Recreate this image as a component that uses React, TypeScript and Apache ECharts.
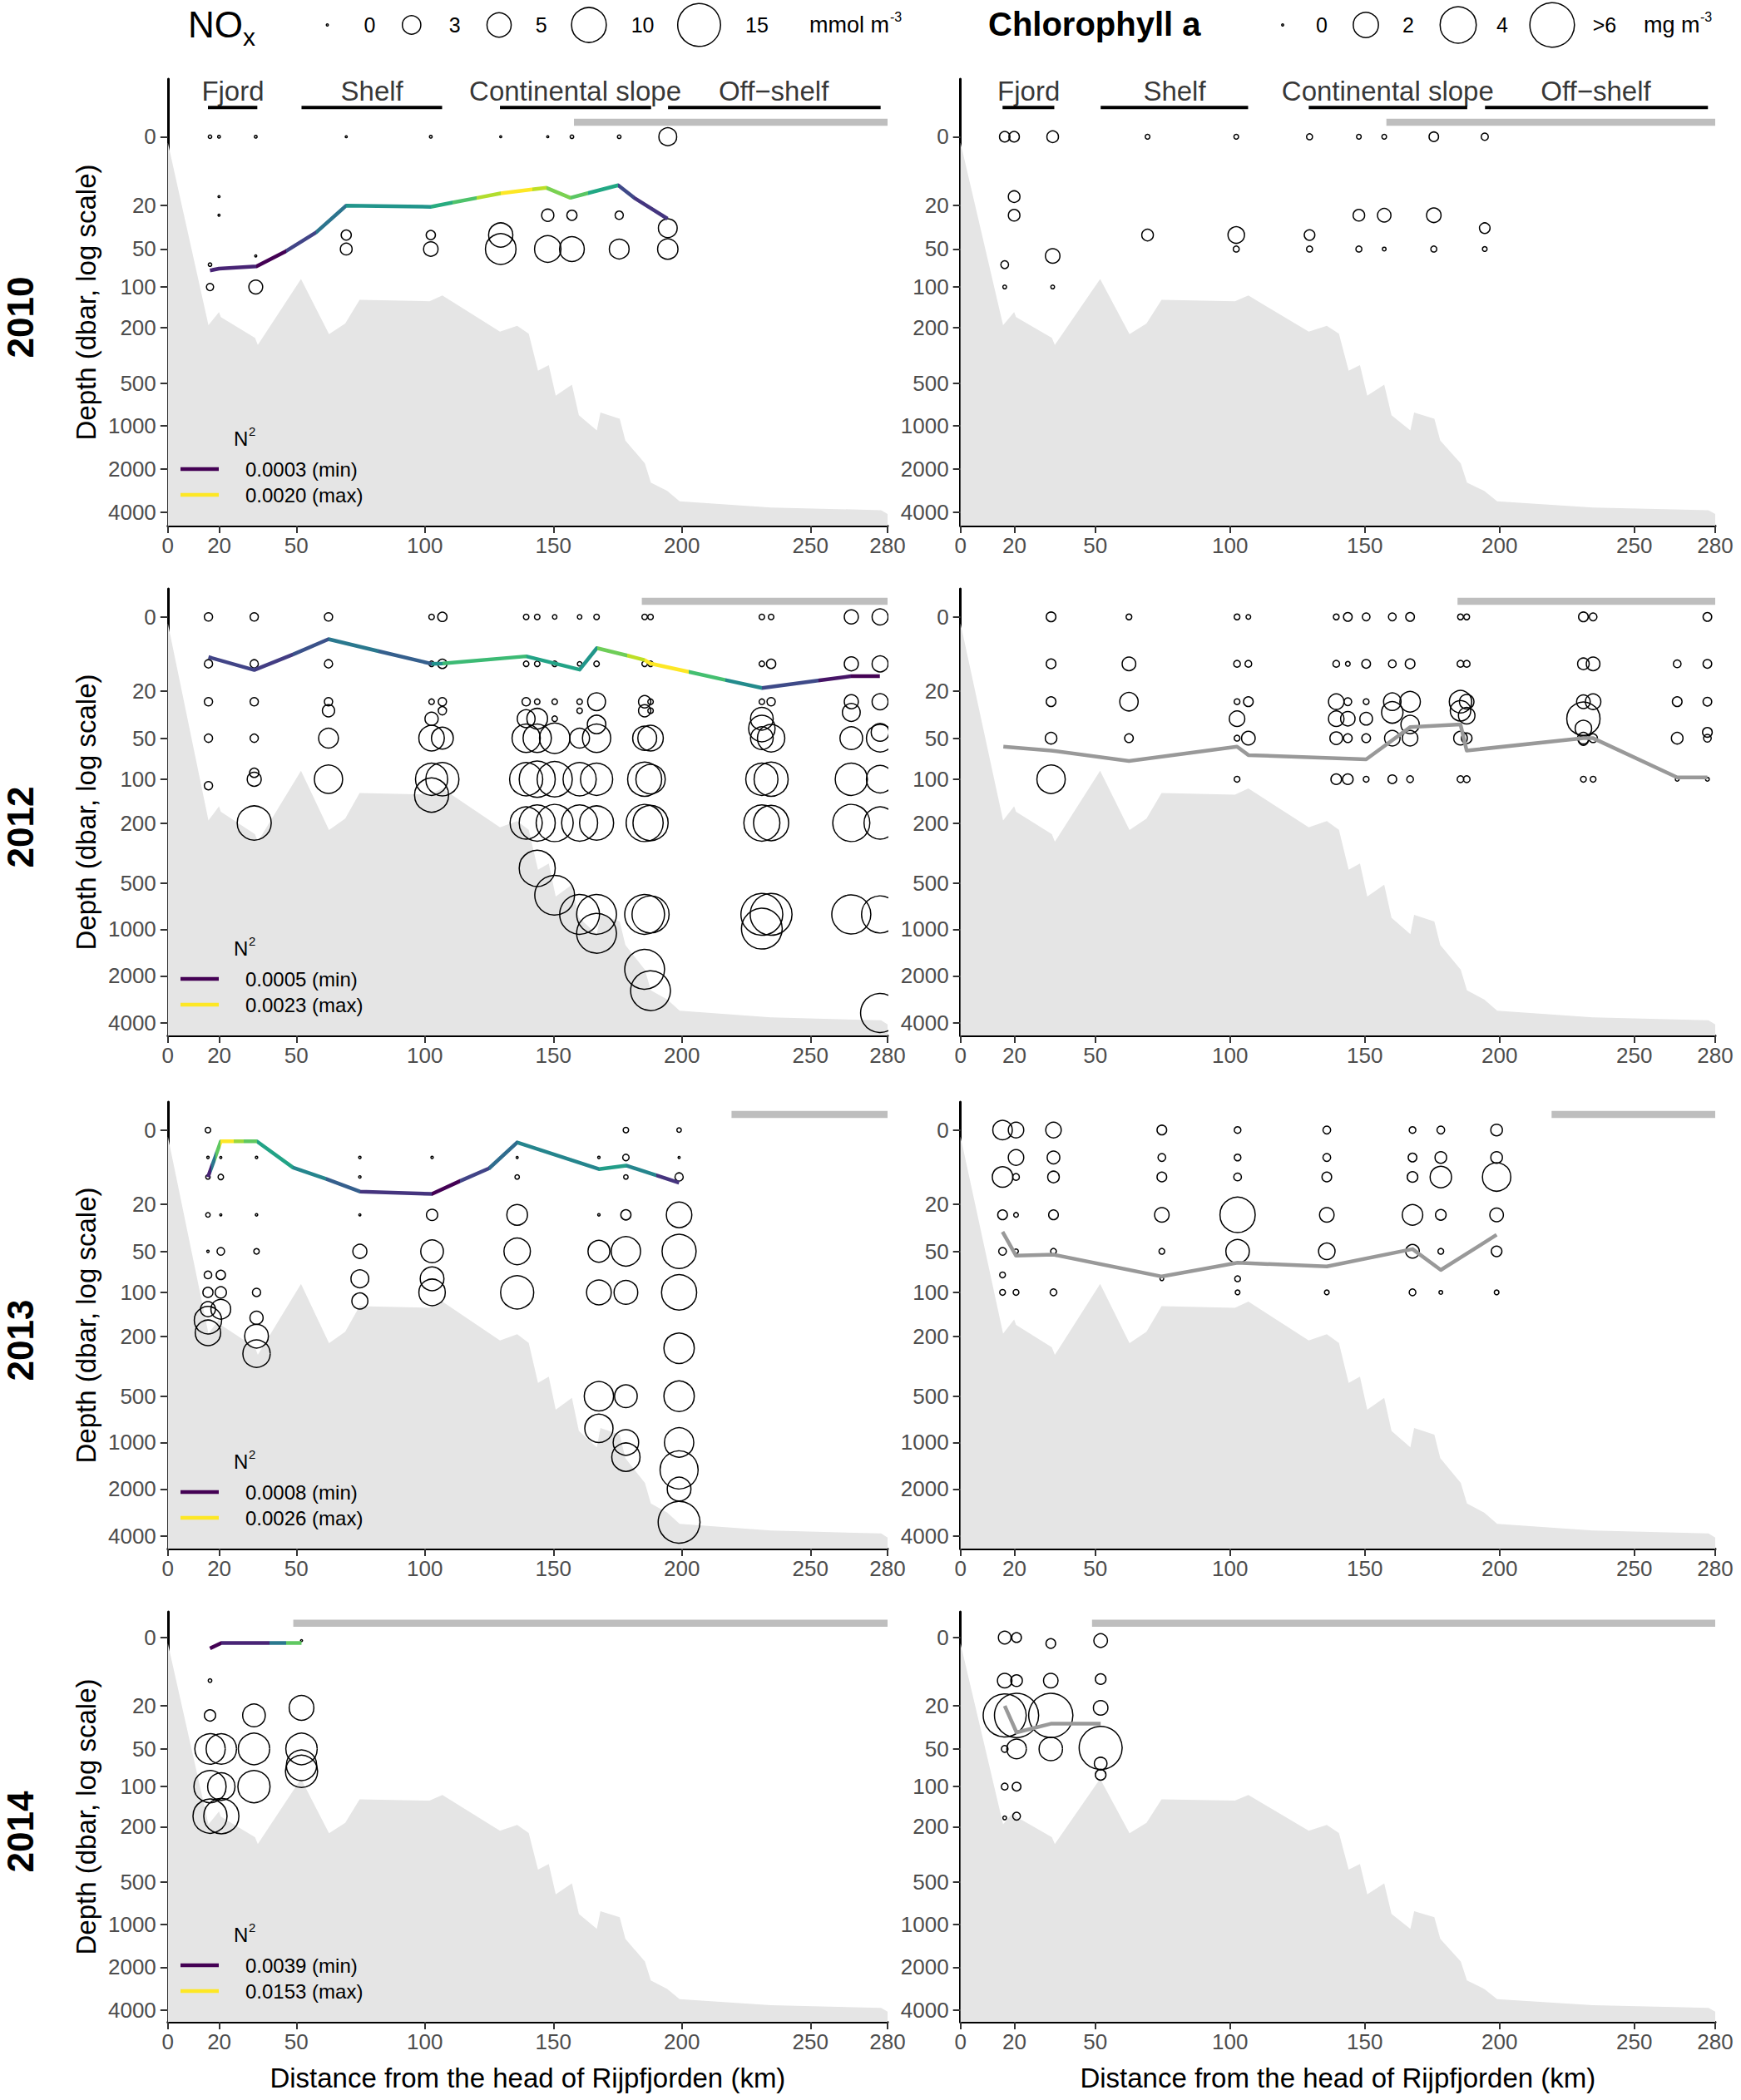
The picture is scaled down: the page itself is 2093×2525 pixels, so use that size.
import React, { useEffect, useRef } from 'react';
import * as echarts from 'echarts';

const W = 2093;
const H = 2525;
const FONT = '"Liberation Sans", Arial, Helvetica, sans-serif';

// ---------- axes / layout data ----------
const years = ['2010', '2012', '2013', '2014'];
const xTicks = [0, 20, 50, 100, 150, 200, 250, 280];
const depthTicks = [0, 20, 50, 100, 200, 500, 1000, 2000, 4000];

// seabed profile [km, depth dbar]
const bathymetry: number[][] = [
  [0, 1], [15.8, 192], [19.9, 154], [20.6, 168], [33.9, 238], [35, 267], [51.8, 87],
  [62.7, 223], [69, 187], [74.6, 125], [101.8, 128], [106.8, 116], [129.2, 214],
  [135.9, 194], [140.4, 222], [144, 409], [148.2, 372], [150.9, 613], [157.2, 512],
  [159.9, 842], [166.9, 1075], [168.3, 806], [175.8, 890], [178, 1264], [185.6, 1826],
  [187.9, 2480], [194.3, 2840], [199.1, 3350], [234.6, 3700], [277.5, 3860], [280, 4100],
];

const sectionNames = ['Fjord', 'Shelf', 'Continental slope', 'Off\u2212shelf'];
const sectionStart = [15.6, 52, 129.2, 194.6];
const sectionEnd = [34.8, 106.7, 188, 277.3];
const sectionLabelKm = [25.3, 79.4, 158.5, 235.7];

const iceStartKm = [158, 184.4, 219.3, 48.8];

// ---------- NOx bubbles [km, depth, mmol m-3] ----------
const nox2010 = [
  [16.4, 0, 0.17], [16.4, 67, 0.17], [16.4, 100, 0.55],
  [19.9, 0, 0.12], [19.9, 16, 0.01], [19.9, 25, 0.03],
  [34.2, 0, 0.12], [34.2, 57, 0.05], [34.2, 100, 1.75],
  [69.4, 0, 0.01], [69.4, 38, 1.0], [69.4, 50, 1.3],
  [102.3, 0, 0.12], [102.3, 38, 0.85], [102.3, 50, 1.9],
  [129.5, 0, 0.01], [129.5, 38, 5.0], [129.5, 50, 7.8],
  [147.8, 0, 0.08], [147.8, 25, 1.4], [147.8, 50, 5.9],
  [157.2, 0, 0.18], [157.2, 25, 1.0], [157.2, 50, 5.2],
  [175.6, 0, 0.18], [175.6, 25, 0.7], [175.6, 50, 3.4],
  [194.5, 0, 2.8], [194.5, 33, 3.1], [194.5, 50, 3.6],
];
const nox2012 = [
  [15.8, 0, 0.7], [15.8, 10, 0.7], [15.8, 25, 0.7], [15.8, 50, 0.7], [15.8, 111, 0.7],
  [33.6, 0, 0.7], [33.6, 10, 0.7], [33.6, 25, 0.7], [33.6, 50, 0.7], [33.6, 90, 0.85], [33.6, 100, 1.8], [33.6, 200, 9.6],
  [62.5, 0, 0.7], [62.5, 10, 0.7], [62.5, 25, 0.7], [62.5, 30, 1.4], [62.5, 50, 3.4], [62.5, 100, 6.7],
  [102.6, 0, 0.35], [102.6, 10, 0.35], [102.6, 25, 0.35], [102.6, 35, 1.6], [102.6, 50, 5.5], [102.6, 100, 8.6], [102.6, 129, 9.6],
  [106.8, 0, 0.85], [106.8, 10, 0.85], [106.8, 25, 0.7], [106.8, 30, 0.7], [106.8, 50, 4.1], [106.8, 100, 9.1],
  [139.4, 0, 0.35], [139.4, 10, 0.35], [139.4, 25, 0.7], [139.4, 35, 2.8], [139.4, 50, 6.7], [139.4, 100, 9.1], [139.4, 200, 8.6],
  [143.7, 0, 0.35], [143.7, 10, 0.35], [143.7, 25, 0.35], [143.7, 35, 3.7], [143.7, 50, 6.7], [143.7, 100, 10.7], [143.7, 200, 10.7], [143.7, 400, 10.7],
  [150.5, 0, 0.25], [150.5, 10, 0.35], [150.5, 25, 0.35], [150.5, 35, 0.35], [150.5, 50, 7.7], [150.5, 100, 10.2], [150.5, 200, 11.3], [150.5, 600, 13],
  [160.2, 0, 0.25], [160.2, 10, 0.25], [160.2, 25, 0.35], [160.2, 30, 0.35], [160.2, 50, 3.4], [160.2, 100, 9.1], [160.2, 200, 10.7], [160.2, 800, 13],
  [166.8, 0, 0.35], [166.8, 10, 0.35], [166.8, 25, 2.8], [166.8, 39, 3.0], [166.8, 50, 6.7], [166.8, 100, 8.6], [166.8, 200, 9.6], [166.8, 800, 13], [166.8, 1061, 13],
  [185.5, 0, 0.35], [185.5, 10, 0.35], [185.5, 25, 1.4], [185.5, 30, 1.4], [185.5, 50, 4.9], [185.5, 100, 9.6], [185.5, 200, 11.3], [185.5, 800, 13], [185.5, 1814, 13],
  [187.8, 0, 0.35], [187.8, 10, 0.35], [187.8, 25, 0.35], [187.8, 30, 0.35], [187.8, 50, 5.5], [187.8, 100, 7.2], [187.8, 200, 10.2], [187.8, 800, 11.3], [187.8, 2490, 13],
  [231.1, 0, 0.35], [231.1, 10, 0.35], [231.1, 25, 0.35], [231.1, 35, 4.4], [231.1, 42, 5.9], [231.1, 50, 4.4], [231.1, 100, 8.6], [231.1, 200, 10.7], [231.1, 800, 14.3], [231.1, 990, 13.6],
  [234.7, 0, 0.35], [234.7, 10, 0.85], [234.7, 25, 0.7], [234.7, 50, 6.3], [234.7, 100, 9.6], [234.7, 200, 10.2], [234.7, 800, 14.3],
  [265.9, 0, 1.8], [265.9, 10, 1.8], [265.9, 25, 1.8], [265.9, 31, 2.8], [265.9, 50, 4.4], [265.9, 100, 8.6], [265.9, 200, 11.3], [265.9, 800, 12.5],
  [277.1, 0, 2.3], [277.1, 10, 2.3], [277.1, 25, 2.3], [277.1, 45, 2.8], [277.1, 50, 6.3], [277.1, 100, 6.3], [277.1, 200, 8.6], [277.1, 800, 11.3], [277.1, 3466, 12.5],
];
const nox2013 = [
  [15.6, 0, 0.35], [15.6, 5, 0.1], [15.6, 10, 0.25], [15.6, 25, 0.25], [15.6, 50, 0.1], [15.6, 75, 0.6], [15.6, 100, 1.0], [15.6, 131, 2.0], [15.6, 156, 6.3], [15.6, 190, 5.5],
  [20.6, 0, 0.06], [20.6, 5, 0.06], [20.6, 10, 0.35], [20.6, 25, 0.06], [20.6, 50, 0.6], [20.6, 75, 0.85], [20.6, 100, 1.2], [20.6, 131, 3.4],
  [34.5, 0, 0.06], [34.5, 5, 0.1], [34.5, 10, 0.06], [34.5, 25, 0.1], [34.5, 50, 0.35], [34.5, 100, 0.7], [34.5, 150, 1.6], [34.5, 200, 4.8], [34.5, 262, 6.3],
  [74.7, 0, 0.1], [74.7, 5, 0.1], [74.7, 10, 0.1], [74.7, 25, 0.04], [74.7, 50, 1.8], [74.7, 80, 2.8], [74.7, 115, 2.3],
  [102.8, 0, 0.1], [102.8, 5, 0.1], [102.8, 10, 0.03], [102.8, 25, 1.2], [102.8, 50, 4.4], [102.8, 80, 4.8], [102.8, 100, 5.9],
  [135.9, 0, 0.06], [135.9, 5, 0.06], [135.9, 10, 0.25], [135.9, 25, 3.7], [135.9, 50, 5.9], [135.9, 100, 9.1],
  [167.7, 0, 0.1], [167.7, 5, 0.1], [167.7, 10, 0.03], [167.7, 25, 0.1], [167.7, 50, 4.1], [167.7, 100, 5.2], [167.7, 500, 7.2], [167.7, 810, 6.7],
  [178.2, 0, 0.35], [178.2, 5, 0.45], [178.2, 10, 0.25], [178.2, 25, 1.0], [178.2, 50, 7.2], [178.2, 100, 4.8], [178.2, 500, 4.4], [178.2, 1000, 5.5], [178.2, 1244, 6.7],
  [198.9, 0, 0.25], [198.9, 5, 0.06], [198.9, 10, 0.7], [198.9, 25, 5.5], [198.9, 50, 9.6], [198.9, 100, 10.2], [198.9, 241, 7.7], [198.9, 500, 7.7], [198.9, 1000, 7.2], [198.9, 1504, 11.9], [198.9, 2000, 4.8], [198.9, 3271, 14.3],
];
const nox2014 = [
  [16.4, 0, 0.25], [16.4, 10, 0.18], [16.4, 25, 1.2], [16.4, 50, 7.7], [16.4, 100, 8.6], [16.4, 167, 9.6],
  [20.8, 0, 0.02], [20.8, 10, 0.02], [20.8, 25, 0.18], [20.8, 50, 7.7], [20.8, 100, 6.3], [20.8, 167, 10.2],
  [33.5, 0, 0.01], [33.5, 10, 0.02], [33.5, 25, 4.4], [33.5, 50, 8.2], [33.5, 100, 8.6],
  [52, 0.5, 0.02], [52, 10, 0.02], [52, 21, 5.2], [52, 50, 8.2], [52, 68, 7.7], [52, 76, 8.6],
];

// ---------- Chlorophyll a bubbles [km, depth, mg m-3] ----------
const chl2010 = [
  [16.4, 0, 0.39], [16.4, 67, 0.23], [16.4, 100, 0.07],
  [19.9, 0, 0.39], [19.9, 16, 0.47], [19.9, 25, 0.47],
  [34.2, 0, 0.47], [34.2, 57, 0.71], [34.2, 100, 0.07],
  [69.4, 0, 0.1], [69.4, 38, 0.47],
  [102.3, 0, 0.1], [102.3, 38, 0.9], [102.3, 50, 0.15],
  [129.5, 0, 0.15], [129.5, 38, 0.4], [129.5, 50, 0.15],
  [147.8, 0, 0.1], [147.8, 25, 0.47], [147.8, 50, 0.15],
  [157.2, 0, 0.1], [157.2, 25, 0.62], [157.2, 50, 0.07],
  [175.6, 0, 0.33], [175.6, 25, 0.71], [175.6, 50, 0.15],
  [194.5, 0, 0.2], [194.5, 33, 0.4], [194.5, 50, 0.1],
];
const chl2012 = [
  [33.6, 0, 0.34], [33.6, 10, 0.34], [33.6, 25, 0.34], [33.6, 50, 0.47], [33.6, 100, 2.5],
  [62.5, 0, 0.14], [62.5, 10, 0.63], [62.5, 25, 1.1], [62.5, 50, 0.28],
  [102.6, 0, 0.14], [102.6, 10, 0.18], [102.6, 25, 0.14], [102.6, 35, 0.8], [102.6, 50, 0.14], [102.6, 100, 0.14],
  [106.8, 0, 0.1], [106.8, 10, 0.18], [106.8, 25, 0.34], [106.8, 50, 0.63],
  [139.4, 0, 0.14], [139.4, 10, 0.18], [139.4, 25, 0.8], [139.4, 35, 0.8], [139.4, 50, 0.55], [139.4, 100, 0.4],
  [143.7, 0, 0.28], [143.7, 10, 0.1], [143.7, 25, 0.23], [143.7, 35, 0.7], [143.7, 50, 0.28], [143.7, 100, 0.4],
  [150.5, 0, 0.23], [150.5, 10, 0.28], [150.5, 25, 0.14], [150.5, 35, 0.55], [150.5, 50, 0.28], [150.5, 100, 0.14],
  [160.2, 0, 0.23], [160.2, 10, 0.23], [160.2, 25, 1.0], [160.2, 31, 1.47], [160.2, 50, 0.8], [160.2, 100, 0.28],
  [166.8, 0, 0.28], [166.8, 10, 0.34], [166.8, 25, 1.35], [166.8, 39, 1.1], [166.8, 50, 0.8], [166.8, 100, 0.18],
  [185.5, 0, 0.14], [185.5, 10, 0.18], [185.5, 25, 1.6], [185.5, 30, 1.35], [185.5, 50, 0.63], [185.5, 100, 0.18],
  [187.8, 0, 0.14], [187.8, 10, 0.18], [187.8, 25, 0.71], [187.8, 33, 0.9], [187.8, 50, 0.4], [187.8, 100, 0.18],
  [231.1, 0, 0.34], [231.1, 10, 0.47], [231.1, 25, 0.63], [231.1, 35, 3.4], [231.1, 42, 0.9], [231.1, 50, 0.47], [231.1, 52, 0.34], [231.1, 100, 0.14],
  [234.7, 0, 0.23], [234.7, 10, 0.63], [234.7, 25, 0.8], [234.7, 50, 0.28], [234.7, 100, 0.14],
  [265.9, 10, 0.23], [265.9, 25, 0.34], [265.9, 50, 0.47], [265.9, 100, 0.07],
  [277.1, 0, 0.28], [277.1, 10, 0.28], [277.1, 25, 0.28], [277.1, 45, 0.34], [277.1, 50, 0.23], [277.1, 100, 0.07],
];
const chl2013 = [
  [15.6, 0, 1.23], [15.6, 10, 1.35], [15.6, 25, 0.34], [15.6, 50, 0.23], [15.6, 75, 0.14], [15.6, 100, 0.14],
  [20.6, 0, 0.8], [20.6, 5, 0.8], [20.6, 10, 0.18], [20.6, 25, 0.1], [20.6, 50, 0.1], [20.6, 100, 0.14],
  [34.5, 0, 0.8], [34.5, 5, 0.55], [34.5, 10, 0.47], [34.5, 25, 0.34], [34.5, 50, 0.14], [34.5, 100, 0.18],
  [74.7, 0, 0.34], [74.7, 5, 0.23], [74.7, 10, 0.34], [74.7, 25, 0.71], [74.7, 50, 0.14], [74.7, 80, 0.07],
  [102.8, 0, 0.18], [102.8, 5, 0.18], [102.8, 10, 0.23], [102.8, 25, 3.8], [102.8, 50, 1.74], [102.8, 80, 0.14], [102.8, 100, 0.1],
  [135.9, 0, 0.23], [135.9, 5, 0.23], [135.9, 10, 0.34], [135.9, 25, 0.71], [135.9, 50, 0.9], [135.9, 100, 0.1],
  [167.7, 0, 0.18], [167.7, 5, 0.28], [167.7, 10, 0.4], [167.7, 25, 1.35], [167.7, 50, 0.63], [167.7, 100, 0.18],
  [178.2, 0, 0.23], [178.2, 5, 0.47], [178.2, 10, 1.47], [178.2, 25, 0.4], [178.2, 50, 0.14], [178.2, 100, 0.07],
  [198.9, 0, 0.47], [198.9, 5, 0.47], [198.9, 10, 2.5], [198.9, 25, 0.63], [198.9, 50, 0.4], [198.9, 100, 0.1],
];
const chl2014 = [
  [16.4, 0, 0.55], [16.4, 10, 0.71], [16.4, 25, 5.6], [16.4, 50, 0.18], [16.4, 100, 0.18], [16.4, 172, 0.07],
  [20.8, 0, 0.34], [20.8, 10, 0.47], [20.8, 25, 5.9], [20.8, 50, 1.23], [20.8, 100, 0.28], [20.8, 167, 0.23],
  [33.5, 1, 0.34], [33.5, 10, 0.71], [33.5, 25, 5.9], [33.5, 50, 1.74],
  [52, 0.5, 0.63], [52, 9.5, 0.4], [52, 21, 0.71], [52, 49, 5.6], [52, 66, 0.55], [52, 81, 0.4],
];

// ---------- N2 lines: points [km, depth] and per-segment N2 ----------
const n2Line2010 = [[16.4, 74.5], [19.9, 72], [34.5, 69], [46, 52], [57.7, 36], [69.4, 20], [102.2, 20.6], [110.8, 18.6], [120, 16.6], [129.4, 14.7], [141.7, 13.2], [147.3, 12.6], [156.6, 16.5], [163.4, 14.6], [175.2, 11.7], [181.4, 16.5], [194.4, 27]];
const n2Seg2010 = [0.00047, 0.00047, 0.0003, 0.00064, 0.00095, 0.00118, 0.00135, 0.00152, 0.0018, 0.002, 0.00183, 0.00166, 0.00156, 0.00132, 0.00067, 0.00056];
const n2Line2012 = [[15.8, 8.1], [33.6, 11.9], [48.7, 7.4], [62.5, 3.9], [82, 6.6], [102.6, 10], [106.9, 9.9], [139.4, 7.9], [160.2, 11.8], [166.9, 5.85], [178.8, 7.7], [185.5, 8.9], [187.7, 9.9], [202.6, 12.5], [216.9, 15.4], [231.2, 18.6], [253, 15.6], [265.8, 14], [277, 14]];
const n2Seg2012 = [0.00086, 0.00082, 0.00095, 0.00122, 0.00104, 0.0014, 0.00172, 0.00154, 0.00144, 0.0019, 0.00212, 0.0023, 0.0023, 0.00176, 0.00136, 0.0009, 0.0006, 0.0005];
const n2Line2013 = [[15.6, 10], [17, 7.3], [18.5, 4.8], [20.6, 1.8], [25.5, 1.8], [29.5, 1.8], [34.6, 1.8], [48.7, 7.4], [61.7, 10.6], [74.7, 14.8], [102.8, 15.7], [113.8, 11.2], [125, 7.6], [135.9, 2], [167.7, 7.8], [178.3, 6.9], [190, 9.5], [198.9, 11.8]];
const n2Seg2013 = [0.00098, 0.00152, 0.00215, 0.0026, 0.00233, 0.00215, 0.00184, 0.00161, 0.00134, 0.00107, 0.0008, 0.00116, 0.00143, 0.00161, 0.00179, 0.00161, 0.00107];
const n2Line2014 = [[16.4, 1.9], [20.8, 0.9], [39.4, 0.9], [45.9, 0.9], [52, 0.9]];
const n2Seg2014 = [0.0039, 0.00504, 0.00846, 0.01245];
const n2MinLabel = ['0.0003', '0.0005', '0.0008', '0.0039'];
const n2MaxLabel = ['0.0020', '0.0023', '0.0026', '0.0153'];

// ---------- depth of chlorophyll maximum (grey line) [km, depth] ----------
const chlMax2010: number[][] = [];
const chlMax2012 = [[15.9, 58], [33.6, 62], [62.5, 74], [102.6, 58], [106.8, 67], [150.5, 72], [166.8, 41], [185.5, 39], [187.8, 62], [231.1, 50], [234.7, 50], [265.9, 97], [277.1, 97]];
const chlMax2013 = [[15.6, 35], [20.6, 54], [34.5, 53], [74.7, 77], [102.8, 61], [135.9, 65], [167.7, 48], [178.2, 69], [198.9, 37]];
const chlMax2014 = [[16.4, 20], [20.8, 36], [33.5, 30], [52, 30]];

// ---------- size legends ----------
const noxLegendValues = [0, 3, 5, 10, 15];
const noxLegendLabels = ['0', '3', '5', '10', '15'];
const chlLegendValues = [0, 2, 4, 6];
const chlLegendLabels = ['0', '2', '4', '>6'];

const noxByYear = [nox2010, nox2012, nox2013, nox2014];
const chlByYear = [chl2010, chl2012, chl2013, chl2014];
const n2LineByYear = [n2Line2010, n2Line2012, n2Line2013, n2Line2014];
const n2SegByYear = [n2Seg2010, n2Seg2012, n2Seg2013, n2Seg2014];
const chlMaxByYear = [chlMax2010, chlMax2012, chlMax2013, chlMax2014];

// ---------- layout (style) ----------
const colLeft = [201.8, 1154.7];
const colWidth = [865.2, 907.3];
const rowTop = [95, 708, 1325, 1938];
const rowHeight = [537, 537, 537, 493];
const rowYMin = [0.6, 0.82, 0.82, 0.82];
const rowYMax = [3.695, 3.685, 3.685, 3.685];

const NOX_K = 13.7;
const CHL_K = 22.5;

const depthT = (d: number) => Math.log10(d + 10);

const VIRIDIS = ['#440154', '#482475', '#414487', '#355f8d', '#2a788e', '#21918c', '#22a884', '#44bf70', '#7ad151', '#bddf26', '#fde725'];
function hex2rgb(h: string) {
  return [parseInt(h.slice(1, 3), 16), parseInt(h.slice(3, 5), 16), parseInt(h.slice(5, 7), 16)];
}
function viridis(f: number) {
  const t = Math.max(0, Math.min(1, f)) * 10;
  const i = Math.min(9, Math.floor(t));
  const r = t - i;
  const a = hex2rgb(VIRIDIS[i]);
  const b = hex2rgb(VIRIDIS[i + 1]);
  const c = a.map((v, k) => Math.round(v + (b[k] - v) * r));
  return `rgb(${c[0]},${c[1]},${c[2]})`;
}

function n2Gradient(pts: number[][], seg: number[], lo: number, hi: number) {
  const x0 = pts[0][0];
  const x1 = pts[pts.length - 1][0];
  const stops: { offset: number; color: string }[] = [];
  for (let i = 0; i < seg.length; i++) {
    const col = viridis((seg[i] - lo) / (hi - lo));
    stops.push({ offset: (pts[i][0] - x0) / (x1 - x0), color: col });
    stops.push({ offset: (pts[i + 1][0] - x0) / (x1 - x0), color: col });
  }
  return new echarts.graphic.LinearGradient(0, 0, 1, 0, stops);
}

function bubbleRadius(v: number, k: number) {
  return Math.max((k * Math.sqrt(v)) / 2 - 0.75, 1.2);
}

function buildOption() {
  const grid: any[] = [];
  const xAxis: any[] = [];
  const yAxis: any[] = [];
  const series: any[] = [];
  const graphic: any[] = [];

  const tickLabel = { fontSize: 26, color: '#4d4d4d', fontFamily: FONT };
  const yCustom = depthTicks.map(depthT);

  for (let r = 0; r < 4; r++) {
    for (let c = 0; c < 2; c++) {
      const g = r * 2 + c;
      grid.push({ left: colLeft[c], top: rowTop[r], width: colWidth[c], height: rowHeight[r], containLabel: false });
      xAxis.push({
        type: 'value', gridIndex: g, min: 0, max: 280,
        axisLine: { show: true, onZero: false, lineStyle: { color: '#000', width: 3 } },
        axisTick: { show: true, length: 9, customValues: xTicks, lineStyle: { color: '#333', width: 2 } },
        axisLabel: { ...tickLabel, margin: 11, customValues: xTicks, formatter: (v: number) => String(Math.round(v)) },
        splitLine: { show: false },
      });
      yAxis.push({
        type: 'value', gridIndex: g, inverse: true, min: rowYMin[r], max: rowYMax[r],
        axisLine: { show: true, onZero: false, lineStyle: { color: '#000', width: 3 } },
        axisTick: { show: true, length: 9, customValues: yCustom, lineStyle: { color: '#333', width: 2 } },
        axisLabel: { ...tickLabel, margin: 14, customValues: yCustom, formatter: (v: number) => String(Math.round(Math.pow(10, v) - 10)) },
        splitLine: { show: false },
      });

      // seabed
      series.push({
        type: 'line', xAxisIndex: g, yAxisIndex: g, symbol: 'none', silent: true, z: 1,
        data: bathymetry.map((p) => [p[0], depthT(p[1])]),
        lineStyle: { width: 0, color: '#e5e5e5' },
        areaStyle: { color: '#e5e5e5', opacity: 1, origin: 'end' },
      });

      // ice bar
      series.push({
        type: 'line', xAxisIndex: g, yAxisIndex: g, symbol: 'none', silent: true, z: 2,
        data: [[iceStartKm[r], 0.9], [280, 0.9]],
        lineStyle: { width: 8.5, color: '#bebebe', cap: 'butt' },
      });

      // bubbles
      const pts = c === 0 ? noxByYear[r] : chlByYear[r];
      const k = c === 0 ? NOX_K : CHL_K;
      series.push({
        type: 'custom', xAxisIndex: g, yAxisIndex: g, clip: true, silent: true, z: 3,
        data: pts.map((p) => [p[0], depthT(p[1]), c === 0 ? p[2] : Math.min(p[2], 6)]),
        encode: { x: 0, y: 1 },
        renderItem: (params: any, api: any) => {
          const pt = api.coord([api.value(0), api.value(1)]);
          return {
            type: 'circle',
            shape: { cx: pt[0], cy: pt[1], r: bubbleRadius(api.value(2), k) },
            style: { fill: 'none', stroke: '#000', lineWidth: 1.5 },
          };
        },
      });

      // lines
      if (c === 0) {
        const lp = n2LineByYear[r];
        const lo = parseFloat(n2MinLabel[r]);
        const hi = parseFloat(n2MaxLabel[r]);
        series.push({
          type: 'line', xAxisIndex: g, yAxisIndex: g, symbol: 'none', silent: true, z: 4,
          data: lp.map((p) => [p[0], depthT(p[1])]),
          lineStyle: { width: 4.5, color: n2Gradient(lp, n2SegByYear[r], lo, hi), cap: 'butt', join: 'round' },
        });
      } else if (chlMaxByYear[r].length) {
        series.push({
          type: 'line', xAxisIndex: g, yAxisIndex: g, symbol: 'none', silent: true, z: 4,
          data: chlMaxByYear[r].map((p) => [p[0], depthT(p[1])]),
          lineStyle: { width: 4.5, color: '#999999', cap: 'butt', join: 'round' },
        });
      }

      // sections (top row)
      if (r === 0) {
        for (let s = 0; s < sectionNames.length; s++) {
          series.push({
            type: 'line', xAxisIndex: g, yAxisIndex: g, symbol: 'none', silent: true, z: 4,
            data: [[sectionStart[s], 0.797], [sectionEnd[s], 0.797]],
            lineStyle: { width: 4, color: '#000', cap: 'butt' },
          });
        }
        series.push({
          type: 'scatter', xAxisIndex: g, yAxisIndex: g, silent: true, z: 5, symbolSize: 1,
          itemStyle: { color: 'rgba(0,0,0,0)' },
          data: sectionNames.map((n, s) => ({ name: n, value: [sectionLabelKm[s], 0.685] })),
          label: { show: true, position: 'inside', formatter: '{b}', fontSize: 33, color: '#000', fontFamily: FONT },
        });
      }
    }

    // N2 legend in left panel
    const bottom = rowTop[r] + rowHeight[r];
    const txt = (x: number, y: number, text: string, size: number, extra: any = {}) => ({
      type: 'text', x, y, silent: true, z: 10, ...extra,
      style: {
        text, fill: extra.fill || '#000', fontSize: size, fontFamily: FONT, fontWeight: extra.fontWeight || 'normal',
        align: extra.align || 'left', textAlign: extra.align || 'left', verticalAlign: 'middle', textVerticalAlign: 'middle',
      },
    });
    graphic.push(txt(281, bottom - 105, 'N', 24));
    graphic.push(txt(299, bottom - 114, '2', 15));
    graphic.push({ type: 'line', silent: true, z: 10, shape: { x1: 217, y1: bottom - 68, x2: 263, y2: bottom - 68 }, style: { stroke: viridis(0), lineWidth: 4.5 } });
    graphic.push({ type: 'line', silent: true, z: 10, shape: { x1: 217, y1: bottom - 37, x2: 263, y2: bottom - 37 }, style: { stroke: viridis(1), lineWidth: 4.5 } });
    graphic.push(txt(295, bottom - 68, `${n2MinLabel[r]} (min)`, 24));
    graphic.push(txt(295, bottom - 37, `${n2MaxLabel[r]} (max)`, 24));

    // row label & y title
    graphic.push(txt(24, rowTop[r] + rowHeight[r] / 2 + 18, years[r], 44, { rotation: Math.PI / 2, align: 'center', fontWeight: 'bold' }));
    graphic.push(txt(103, rowTop[r] + rowHeight[r] / 2, 'Depth (dbar, log scale)', 33, { rotation: Math.PI / 2, align: 'center' }));
  }

  // x titles
  for (let c = 0; c < 2; c++) {
    graphic.push({
      type: 'text', x: colLeft[c] + colWidth[c] / 2, y: 2498, silent: true,
      style: { text: 'Distance from the head of Rijpfjorden (km)', fill: '#000', fontSize: 33, fontFamily: FONT, align: 'center', textAlign: 'center', verticalAlign: 'middle', textVerticalAlign: 'middle' },
    });
  }

  // top size legends
  const ly = 30;
  const T = (x: number, y: number, text: string, size: number, weight = 'normal', align = 'left') => ({
    type: 'text', x, y, silent: true,
    style: { text, fill: '#000', fontSize: size, fontFamily: FONT, fontWeight: weight, align, textAlign: align, verticalAlign: 'middle', textVerticalAlign: 'middle' },
  });
  graphic.push(T(226, 29, 'NO', 44));
  graphic.push(T(292, 44, 'x', 30));
  const noxCx = [393.5, 494.8, 600, 708, 840.5];
  const noxLx = [444.5, 546.6, 650.7, 772.6, 910];
  noxLegendValues.forEach((v, i) => {
    graphic.push({ type: 'circle', silent: true, shape: { cx: noxCx[i], cy: ly, r: bubbleRadius(v, NOX_K) }, style: { fill: 'none', stroke: '#000', lineWidth: 1.5 } });
    graphic.push(T(noxLx[i], ly, noxLegendLabels[i], 25, 'normal', 'center'));
  });
  graphic.push(T(973, ly, 'mmol m', 27));
  graphic.push(T(1070, ly - 10, '-3', 16));

  graphic.push(T(1188, 29, 'Chlorophyll a', 40, 'bold'));
  const chlCx = [1542, 1642, 1753, 1866];
  const chlLx = [1589, 1693, 1806, 1929];
  chlLegendValues.forEach((v, i) => {
    graphic.push({ type: 'circle', silent: true, shape: { cx: chlCx[i], cy: ly, r: bubbleRadius(v, CHL_K) }, style: { fill: 'none', stroke: '#000', lineWidth: 1.5 } });
    graphic.push(T(chlLx[i], ly, chlLegendLabels[i], 25, 'normal', 'center'));
  });
  graphic.push(T(1976, ly, 'mg m', 27));
  graphic.push(T(2044, ly - 10, '-3', 16));

  return { animation: false, backgroundColor: '#fff', grid, xAxis, yAxis, series, graphic };
}

export default function App() {
  const ref = useRef<HTMLDivElement>(null);
  useEffect(() => {
    document.body.style.margin = '0';
    if (!ref.current) return;
    const chart = echarts.init(ref.current, null, { renderer: 'svg' });
    chart.setOption(buildOption() as any);
    return () => chart.dispose();
  }, []);
  return <div ref={ref} style={{ width: W, height: H, background: '#fff' }} />;
}
